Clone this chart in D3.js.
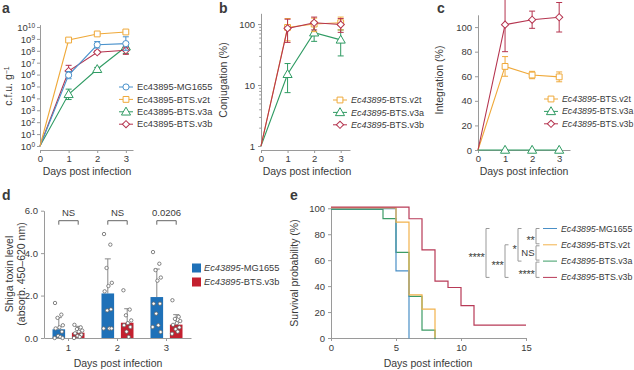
<!DOCTYPE html>
<html><head><meta charset="utf-8">
<script src="https://cdn.jsdelivr.net/npm/d3@7"></script>
<style>
body{margin:0;background:#fff;}
svg text{font-family:"Liberation Sans",Arial,Helvetica,sans-serif;fill:#3a3a3a;}
</style></head><body>
<svg id="c" width="634" height="370"></svg>
<script>
// ---------- DATA ----------
const days = [0, 1, 2, 3];
// panel a : c.f.u. per g
const cfuMG1655   = [1, 9e5, 3.2e8, 4e8];
const cfuMG1655Hi = [1, 1.8e6, 6e8, 1.5e9];
const cfuMG1655Lo = [1, 4.5e5, 1.7e8, 1.1e8];
const cfuV2t   = [1, 8e8, 2.6e9, 3.8e9];
const cfuV2tHi = [1, 1e9, 3.2e9, 4.6e9];
const cfuV2tLo = [1, 6.5e8, 2.1e9, 3.1e9];
const cfuV3a   = [1, 2.2e4, 2.8e6, 2.2e8];
const cfuV3aHi = [1, 6e4, 4e6, 5e8];
const cfuV3aLo = [1, 8e3, 2e6, 6e7];
const cfuV3b   = [1, 2e6, 7.5e7, 1.1e8];
const cfuV3bHi = [1, 6e6, 1e8, 2e8];
const cfuV3bLo = [1, 7e5, 5.6e7, 5e7];
const cfuTicks = [1,1e1,1e2,1e3,1e4,1e5,1e6,1e7,1e8,1e9,1e10];
// panel b : conjugation (%)
const conjV2t = [1, 88, 100, 105];
const conjV2tErr = [0, 35, 25, 25];
const conjV3a = [1, 15, 72, 55];
const conjV3aErr = [0, 7.5, 20, 25];
const conjV3b = [1, 85, 105, 98];
const conjV3bErr = [0, 35, 25, 25];
const conjTicks = [1, 10, 100];
// panel c : integration (%)
const intV2t = [0, 68, 61, 59.5];
const intV2tErr = [0, 8, 3, 4];
const intV3a = [0, 0, 0, 0];
const intV3aErr = [0, 0, 0, 0];
const intV3b = [0, 102, 106, 108];
const intV3bErr = [0, 22, 7, 12];
const intTicks = [0, 20, 40, 60, 80, 100];
// panel d : Shiga toxin
const toxDays = [1, 2, 3];
const toxMG1655Mean = [0.41, 2.1, 1.93];
const toxMG1655Sd = [0.55, 1.63, 1.32];
const toxV3bMean = [0.25, 0.72, 0.63];
const toxV3bSd = [0.3, 0.66, 0.47];
const toxMG1655Pts = [
  [1.65, 1.1, 0.95, 0.6, 0.5, 0.45, 0.3, 0.1, 0.05, 0, 0],
  [4.9, 4.4, 3.3, 2.6, 2.45, 2.2, 1.35, 1.3, 0.45, 0.45, 0.45],
  [4.05, 3.5, 3.2, 2.85, 2.7, 1.62, 1.62, 1.15, 0.6, 0.52, 0.28]
];
const toxV3bPts = [
  [0.62, 0.5, 0.42, 0.35, 0.3, 0.22, 0.15, 0.1, 0.05, 0],
  [2.25, 1.34, 1.07, 0.83, 0.7, 0.6, 0.52, 0.3, 0.05],
  [1.78, 1.0, 0.9, 0.8, 0.7, 0.62, 0.5, 0.42, 0.3, 0.2]
];
const toxSig = ["NS", "NS", "0.0206"];
const toxTicks = [0, 2, 4, 6];
// panel e : survival (%)
const survMG1655T = [0, 5, 6];
const survMG1655V = [100, 52, 0];
const survV2tT = [0, 5, 6, 7, 8];
const survV2tV = [100, 89, 33, 22, 0];
const survV3aT = [0, 4, 5, 6, 7, 8];
const survV3aV = [100, 93, 67, 33, 7, 0];
const survV3bT = [0, 6, 7, 8, 9, 10, 11, 15];
const survV3bV = [100, 91, 67, 43, 38, 24, 9, 9];
const survXTicks = [0, 5, 10, 15];
const survYTicks = [0, 20, 40, 60, 80, 100];
const survSig = [
  {a: 0, b: 3, label: "****", col: 0},
  {a: 1, b: 3, label: "***", col: 1},
  {a: 0, b: 2, label: "*", col: 2},
  {a: 0, b: 1, label: "**", col: 3},
  {a: 1, b: 2, label: "NS", col: 3},
  {a: 2, b: 3, label: "****", col: 3}
];
const strainPrefix = "Ec43895";
const strainNames = ["-MG1655", "-BTS.v2t", "-BTS.v3a", "-BTS.v3b"];

// ---------- STYLE ----------
const C = {blue: "#4a92cc", orange: "#efa93a", green: "#2f9b63", red: "#b5344f"};
const CE = {blue: "#4a8fc6", orange: "#f2b24c", green: "#3c9c66", red: "#b83a57"};
const barBlue = "#1f71b8", barRed = "#c3202f";
const axisCol = "#9a9a9a";
const svg = d3.select("#c");
const fmtInt = d3.format("d");

function styleAxis(g) {
  g.selectAll("path,line").attr("stroke", axisCol).attr("stroke-width", 1);
  g.selectAll("text").style("font-size", "9.5px").attr("fill", "#3a3a3a");
}
function panelLabel(txt, x, y) {
  svg.append("text").attr("x", x).attr("y", y).text(txt)
    .style("font-size", "14px").style("font-weight", "bold").attr("fill", "#111");
}
function xTitle(txt, x, y) {
  svg.append("text").attr("x", x).attr("y", y).attr("text-anchor", "middle")
    .style("font-size", "10.5px").text(txt);
}
function bottomAxis(x, yPos, ticks) {
  const gx = svg.append("g").attr("transform", `translate(0,${yPos})`)
    .call(d3.axisBottom(x).tickValues(ticks).tickFormat(fmtInt).tickSize(3).tickPadding(2).tickSizeOuter(0));
  styleAxis(gx);
  return gx;
}
const shapes = {circle: d3.symbolCircle, square: d3.symbolSquare, triangle: d3.symbolTriangle, diamond: d3.symbolSquare};
function drawMarker(g, shape, x, y, col) {
  const sizes = {circle: 30, square: 34, triangle: 36, diamond: 26};
  const p = g.append("path").attr("d", d3.symbol().type(shapes[shape]).size(sizes[shape])())
    .attr("fill", "#fff").attr("stroke", col).attr("stroke-width", 1);
  if (shape === "diamond") p.attr("transform", `translate(${x},${y}) rotate(45)`);
  else if (shape === "triangle") p.attr("transform", `translate(${x},${y + 0.6})`);
  else p.attr("transform", `translate(${x},${y})`);
}
function legendItem(g, x, y, col, shape, name, italic, fs) {
  g.append("line").attr("x1", x).attr("x2", x + 14).attr("y1", y).attr("y2", y)
    .attr("stroke", col).attr("stroke-width", 1);
  if (shape) drawMarker(g, shape, x + 7, y, col);
  const t = g.append("text").attr("x", x + 18).attr("y", y).attr("dy", "0.35em").style("font-size", (fs || 9.5) + "px");
  t.append("tspan").text(strainPrefix).style("font-style", italic ? "italic" : "normal");
  t.append("tspan").text(name);
}
function lineSeries(g, x, y, xs, vals, lo, hi, col, shape, showFrom) {
  const pts = xs.map((d, i) => [x(d), y(vals[i])]);
  g.append("path").attr("d", d3.line()(pts)).attr("fill", "none").attr("stroke", col).attr("stroke-width", 1.1);
  xs.forEach((d, i) => {
    if (i < showFrom) return;
    const cx = x(d);
    if (lo[i] !== vals[i] || hi[i] !== vals[i]) {
      const y1 = y(hi[i]), y2 = y(lo[i]);
      g.append("line").attr("x1", cx).attr("x2", cx).attr("y1", y1).attr("y2", y2).attr("stroke", col);
      [y1, y2].forEach(yy => g.append("line").attr("x1", cx - 3).attr("x2", cx + 3).attr("y1", yy).attr("y2", yy).attr("stroke", col));
    }
  });
  xs.forEach((d, i) => { if (i >= showFrom) drawMarker(g, shape, x(d), y(vals[i]), col); });
}

// ---------- PANEL A ----------
{
  const x = d3.scaleLinear().domain([0, 3.25]).range([40, 133]);
  const y = d3.scaleLog().domain([1, Math.pow(10, 10.2)]).range([146, 24.6]);
  const ga = svg.append("g").attr("transform", "translate(40,0)").call(d3.axisLeft(y).tickValues(cfuTicks).tickFormat(() => "").tickSize(3).tickSizeOuter(0));
  styleAxis(ga);
  ga.selectAll(".tick").each(function (d) {
    const t = d3.select(this).append("text").attr("x", -5).attr("dy", "0.35em").attr("text-anchor", "end")
      .style("font-size", "9.5px").attr("fill", "#3a3a3a");
    t.append("tspan").text("10");
    t.append("tspan").text(Math.round(Math.log10(d))).attr("dy", "-0.45em").style("font-size", "6.5px");
  });
  bottomAxis(x, 150, days);
  const g = svg.append("g");
  lineSeries(g, x, y, days, cfuV3a, cfuV3aLo, cfuV3aHi, C.green, "triangle", 1);
  lineSeries(g, x, y, days, cfuV3b, cfuV3bLo, cfuV3bHi, C.red, "diamond", 1);
  lineSeries(g, x, y, days, cfuMG1655, cfuMG1655Lo, cfuMG1655Hi, C.blue, "circle", 1);
  lineSeries(g, x, y, days, cfuV2t, cfuV2tLo, cfuV2tHi, C.orange, "square", 1);
  const lg = svg.append("g");
  const cols = [C.blue, C.orange, C.green, C.red], shp = ["circle", "square", "triangle", "diamond"];
  strainNames.forEach((n, i) => legendItem(lg, 119, 87 + i * 12.4, cols[i], shp[i], n, false, 9.3));
  panelLabel("a", 2, 13);
  const t = svg.append("text").attr("transform", "translate(12,86) rotate(-90)").attr("text-anchor", "middle").style("font-size", "10.5px");
  t.append("tspan").text("c.f.u. g");
  t.append("tspan").text("\u22121").attr("dy", "-0.45em").style("font-size", "7px");
  xTitle("Days post infection", 87, 175);
}

// ---------- PANEL B ----------
{
  const x = d3.scaleLinear().domain([0, 3.35]).range([261, 350]);
  const y = d3.scaleLog().domain([1, 150]).range([146, 13.3]);
  const minor = d3.range(1, 10).concat(d3.range(10, 100, 10), [100]);
  const ga = svg.append("g").attr("transform", "translate(261,0)").call(d3.axisLeft(y).tickValues(minor).tickFormat(d => conjTicks.includes(d) ? d : "").tickSize(3).tickSizeOuter(0));
  styleAxis(ga);
  ga.selectAll(".tick").filter(d => !conjTicks.includes(d)).select("line").attr("x2", -1.8);
  bottomAxis(x, 150, days);
  const g = svg.append("g");
  const lo = (v, e) => v.map((d, i) => Math.max(d - e[i], 1));
  const hi = (v, e) => v.map((d, i) => d + e[i]);
  lineSeries(g, x, y, days, conjV3a, lo(conjV3a, conjV3aErr), hi(conjV3a, conjV3aErr), C.green, "triangle", 1);
  lineSeries(g, x, y, days, conjV2t, lo(conjV2t, conjV2tErr), hi(conjV2t, conjV2tErr), C.orange, "square", 1);
  lineSeries(g, x, y, days, conjV3b, lo(conjV3b, conjV3bErr), hi(conjV3b, conjV3bErr), C.red, "diamond", 1);
  const lg = svg.append("g");
  [[C.orange, "square", 1], [C.green, "triangle", 2], [C.red, "diamond", 3]].forEach((d, i) =>
    legendItem(lg, 333, 100 + i * 12.4, d[0], d[1], strainNames[d[2]], true, 9));
  panelLabel("b", 219, 13);
  svg.append("text").attr("transform", "translate(227,80) rotate(-90)").attr("text-anchor", "middle").style("font-size", "10.5px").text("Conjugation (%)");
  xTitle("Days post infection", 307, 175);
}

// ---------- PANEL C ----------
{
  const x = d3.scaleLinear().domain([0, 3.4]).range([478, 570]);
  const y = d3.scaleLinear().domain([0, 110]).range([150, 14.8]);
  const ga = svg.append("g").attr("transform", "translate(478,0)").call(d3.axisLeft(y).tickValues(intTicks).tickSize(3).tickSizeOuter(0));
  styleAxis(ga);
  bottomAxis(x, 150, days);
  const g = svg.append("g");
  const lo = (v, e) => v.map((d, i) => d - e[i]);
  const hi = (v, e) => v.map((d, i) => d + e[i]);
  lineSeries(g, x, y, days, intV2t, lo(intV2t, intV2tErr), hi(intV2t, intV2tErr), C.orange, "square", 1);
  lineSeries(g, x, y, days, intV3b, lo(intV3b, intV3bErr), hi(intV3b, intV3bErr), C.red, "diamond", 1);
  lineSeries(g, x, y, days, intV3a, lo(intV3a, intV3aErr), hi(intV3a, intV3aErr), C.green, "triangle", 1);
  const lg = svg.append("g");
  [[C.orange, "square", 1], [C.green, "triangle", 2], [C.red, "diamond", 3]].forEach((d, i) =>
    legendItem(lg, 544, 99 + i * 12.4, d[0], d[1], strainNames[d[2]], true, 8.8));
  panelLabel("c", 437, 13);
  svg.append("text").attr("transform", "translate(443,80) rotate(-90)").attr("text-anchor", "middle").style("font-size", "10.5px").text("Integration (%)");
  xTitle("Days post infection", 524, 175);
}

// ---------- PANEL D ----------
{
  const xb = d3.scaleBand().domain(toxDays).range([44, 191]);
  const xi = d3.scaleBand().domain([0, 1]).range([-16, 16]).paddingInner(0.35);
  const y = d3.scaleLinear().domain([0, 6]).range([338, 210.7]);
  const ga = svg.append("g").attr("transform", "translate(44,0)").call(d3.axisLeft(y).tickValues(toxTicks).tickSize(3).tickSizeOuter(0));
  styleAxis(ga);
  const gx = svg.append("g").attr("transform", "translate(0,338)").call(d3.axisBottom(xb).tickSize(3).tickPadding(3).tickSizeOuter(0));
  styleAxis(gx);
  const g = svg.append("g");
  const jit = [-0.3, 0.2, -0.1, 0.32, 0.05, -0.25, 0.25, -0.05, 0.12, -0.33, 0.3];
  const groups = [[toxMG1655Mean, toxMG1655Sd, toxMG1655Pts, barBlue], [toxV3bMean, toxV3bSd, toxV3bPts, barRed]];
  toxDays.forEach((d, di) => {
    const cx0 = xb(d) + xb.bandwidth() / 2;
    groups.forEach((gr, k) => {
      const bx = cx0 + xi(k), bw = xi.bandwidth(), bc = bx + bw / 2;
      const m = gr[0][di], sd = gr[1][di];
      g.append("line").attr("x1", bc).attr("x2", bc).attr("y1", y(m)).attr("y2", y(m + sd)).attr("stroke", "#888");
      g.append("line").attr("x1", bc - 3).attr("x2", bc + 3).attr("y1", y(m + sd)).attr("y2", y(m + sd)).attr("stroke", "#888");
      g.append("rect").attr("x", bx).attr("y", y(m)).attr("width", bw).attr("height", y(0) - y(m)).attr("fill", gr[3]);
      gr[2][di].forEach((v, j) => {
        g.append("circle").attr("cx", bc + jit[j % jit.length] * bw).attr("cy", y(v)).attr("r", 1.7)
          .attr("fill", "#fff").attr("stroke", "#666").attr("stroke-width", 0.8);
      });
    });
    const xa = cx0 + xi(0) + xi.bandwidth() / 2, xc = cx0 + xi(1) + xi.bandwidth() / 2;
    const by = y(6) + 10;
    g.append("path").attr("d", `M${xa},${by + 4}V${by}H${xc}V${by + 4}`).attr("fill", "none").attr("stroke", "#666");
    g.append("text").attr("x", (xa + xc) / 2).attr("y", by - 5).attr("text-anchor", "middle").style("font-size", "9.5px").text(toxSig[di]);
  });
  const lg = svg.append("g");
  [[barBlue, 0], [barRed, 3]].forEach((d, i) => {
    const yy = 268 + i * 14;
    lg.append("rect").attr("x", 192).attr("y", yy - 4.5).attr("width", 9).attr("height", 9).attr("fill", d[0]);
    const t = lg.append("text").attr("x", 204).attr("y", yy).attr("dy", "0.35em").style("font-size", "9.3px");
    t.append("tspan").text(strainPrefix).style("font-style", "italic");
    t.append("tspan").text(strainNames[d[1]]);
  });
  panelLabel("d", 2, 200);
  const t = svg.append("text").attr("transform", "translate(13,274) rotate(-90)").attr("text-anchor", "middle").style("font-size", "10.5px");
  t.append("tspan").attr("x", 0).attr("dy", 0).text("Shiga toxin level");
  t.append("tspan").attr("x", 0).attr("dy", "1.15em").text("(absorb. 450\u2013620 nm)");
  xTitle("Days post infection", 118, 367);
}

// ---------- PANEL E ----------
{
  const x = d3.scaleLinear().domain([0, 15]).range([331, 526]);
  const y = d3.scaleLinear().domain([0, 100]).range([338, 208.3]);
  const ga = svg.append("g").attr("transform", "translate(331,0)").call(d3.axisLeft(y).tickValues(survYTicks).tickSize(3).tickSizeOuter(0));
  styleAxis(ga);
  const gx = svg.append("g").attr("transform", "translate(0,338)").call(d3.axisBottom(x).tickValues(survXTicks).tickSize(3).tickPadding(3).tickSizeOuter(0));
  styleAxis(gx);
  const g = svg.append("g");
  const series = [
    [survV3aT, survV3aV, CE.green, 1.2],
    [survMG1655T, survMG1655V, CE.blue, 0.4],
    [survV2tT, survV2tV, CE.orange, -0.4],
    [survV3bT, survV3bV, CE.red, -1.2]
  ];
  series.forEach(s => {
    const pts = s[0].map((t, i) => [x(t), y(s[1][i])]);
    g.append("path").attr("d", d3.line().curve(d3.curveStepAfter)(pts)).attr("transform", `translate(0,${s[3]})`)
      .attr("fill", "none").attr("stroke", s[2]).attr("stroke-width", 1.2);
  });
  const lg = svg.append("g");
  const cols = [CE.blue, CE.orange, CE.green, CE.red];
  const rowY = i => 228.5 + i * 16.3;
  strainNames.forEach((n, i) => legendItem(lg, 543, rowY(i), cols[i], null, n, true, 8.8));
  const colX = [486, 505, 518, 536];
  const bg = svg.append("g");
  survSig.forEach(s => {
    const xx = colX[s.col], y1 = rowY(s.a) + (s.col === 3 && s.a > 0 ? 1 : 0), y2 = rowY(s.b) - (s.col === 3 && s.b < 3 ? 1 : 0);
    bg.append("path").attr("d", `M${xx + 3.5},${y1}H${xx}V${y2}H${xx + 3.5}`).attr("fill", "none").attr("stroke", "#999").attr("stroke-width", 1);
    const isNS = s.label === "NS";
    bg.append("text").attr("x", xx - 1.5).attr("y", (y1 + y2) / 2).attr("dy", isNS ? "0.35em" : "0.75em")
      .attr("text-anchor", "end").style("font-size", isNS ? "9.5px" : "11px").style("letter-spacing", isNS ? "0" : "-0.3px").text(s.label);
  });
  panelLabel("e", 290, 200);
  svg.append("text").attr("transform", "translate(298,273) rotate(-90)").attr("text-anchor", "middle").style("font-size", "10.5px").text("Survival probability (%)");
  xTitle("Days post infection", 428, 367);
}
</script>
</body></html>
